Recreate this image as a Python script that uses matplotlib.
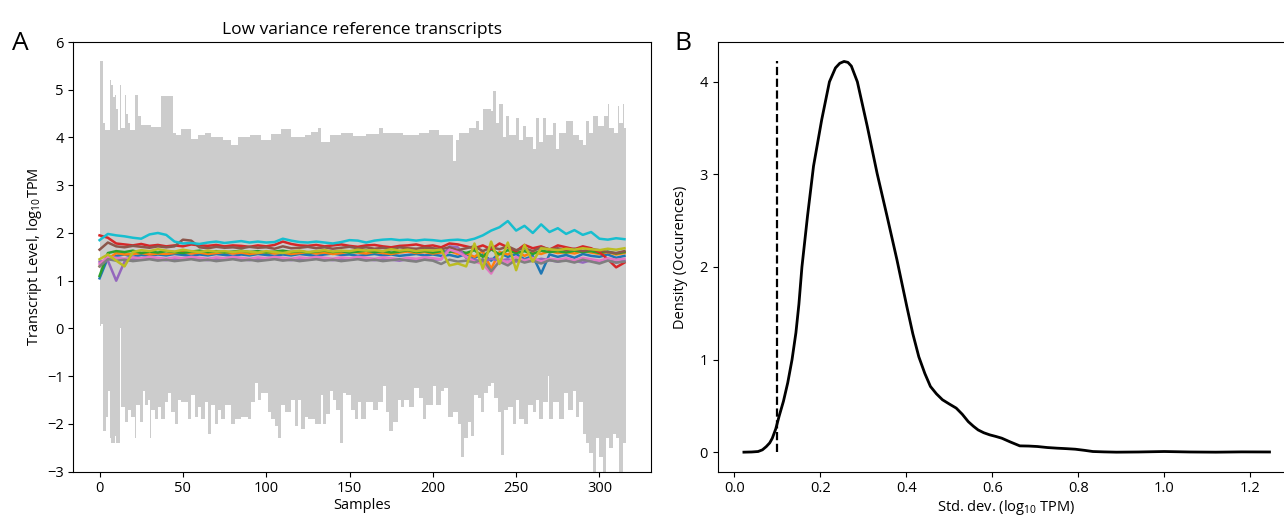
import numpy as np
import matplotlib
matplotlib.use("Agg")
import matplotlib.pyplot as plt

plt.rcParams['font.family'] = ['Open Sans', 'DejaVu Sans']
plt.rcParams['mathtext.fontset'] = 'custom'
plt.rcParams['mathtext.rm'] = 'Open Sans'
plt.rcParams['mathtext.it'] = 'Open Sans:italic'

# ---- panel A: envelope of all transcripts (grey), as stairs segments
top_start = [0, 2, 3, 6, 7, 8, 9, 10, 11, 12, 13, 15, 16, 17, 18, 21, 23, 25, 31, 37,
             44, 46, 49, 55, 59, 63, 67, 74, 79, 83, 90, 97, 103, 109, 115, 123, 127, 131, 133, 138,
             145, 152, 160, 168, 170, 182, 192, 198, 204, 212, 214, 216, 222, 226, 228, 230, 235, 236, 238, 240,
             242, 244, 246, 250, 252, 254, 256, 260, 262, 264, 266, 268, 272, 274, 276, 280, 284, 288, 290, 292,
             294, 296, 299, 303, 305, 306, 309, 311, 312, 314, 315]
top_value = [5.6, 4.3, 4.15, 5.2, 5.1, 4.85, 4.9, 4.6, 4.15, 5.1, 4.2, 4.9, 4.5, 4.3, 4.15, 4.9, 4.45, 4.27, 4.22, 4.87,
             4.1, 4.05, 4.18, 3.97, 4.05, 4.1, 4.0, 3.95, 3.85, 4.02, 4.05, 3.95, 4.08, 4.18, 4.02, 4.05, 4.12, 4.2, 3.9, 4.05,
             4.1, 4.03, 4.08, 4.2, 4.1, 4.05, 4.1, 4.15, 4.05, 3.5, 3.95, 4.1, 4.2, 4.35, 4.15, 4.6, 4.55, 4.97, 4.3, 4.7,
             4.0, 4.45, 4.05, 4.4, 3.95, 4.25, 4.0, 3.75, 4.4, 3.9, 4.4, 4.05, 4.3, 3.75, 4.1, 4.35, 4.05, 3.95, 3.85, 4.35,
             4.1, 4.45, 4.25, 4.45, 4.7, 4.2, 4.1, 4.65, 4.3, 4.7, 4.2]

bot_start = [0, 1, 2, 4, 5, 6, 7, 9, 10, 12, 13, 15, 17, 19, 21, 22, 24, 26, 27, 29,
             30, 31, 33, 35, 37, 39, 41, 43, 45, 47, 49, 53, 55, 57, 59, 61, 63, 65, 67, 69,
             71, 73, 75, 79, 81, 85, 89, 91, 93, 95, 97, 101, 103, 105, 107, 109, 111, 115, 117, 119,
             121, 123, 125, 129, 133, 134, 136, 138, 140, 142, 144, 146, 148, 151, 153, 155, 157, 160, 164, 167,
             170, 172, 174, 176, 179, 181, 183, 186, 189, 192, 194, 196, 200, 202, 205, 207, 209, 212, 215, 217,
             219, 221, 223, 225, 227, 229, 231, 233, 235, 237, 239, 241, 243, 245, 248, 250, 252, 255, 257, 260,
             262, 264, 266, 269, 270, 272, 276, 279, 281, 284, 286, 288, 290, 292, 294, 296, 298, 300, 302, 304,
             306, 308, 310, 312, 314]
bot_value = [0.05, 0.1, -2.15, -1.85, -1.3, -2.3, -2.4, -2.25, -2.4, 0.0, -1.65, -1.95, -1.7, -1.85, -2.3, -1.6, -1.95, -1.3, -1.6, -1.5,
             -2.3, -1.7, -1.9, -1.65, -1.9, -1.55, -1.35, -1.75, -2.0, -1.5, -1.55, -1.9, -1.4, -1.85, -1.65, -1.9, -1.55, -2.2, -1.6, -2.0,
             -1.7, -1.9, -1.6, -2.0, -1.9, -1.85, -1.9, -1.55, -1.15, -1.5, -1.35, -1.75, -1.9, -2.05, -2.3, -1.6, -1.75, -1.5, -2.05, -1.5,
             -2.1, -1.85, -1.9, -2.0, -1.4, -2.0, -1.8, -1.3, -1.5, -1.7, -2.4, -1.35, -1.4, -1.7, -1.9, -1.55, -1.9, -1.55, -1.7, -1.55,
             -1.2, -1.75, -2.15, -1.95, -1.5, -1.65, -1.5, -1.65, -1.25, -1.45, -1.9, -1.6, -1.2, -1.6, -1.3, -1.25, -1.85, -1.75, -2.0, -2.7,
             -2.3, -1.95, -2.25, -1.4, -1.45, -1.75, -1.35, -1.2, -1.15, -1.45, -1.75, -2.65, -1.7, -1.65, -2.0, -1.5, -1.9, -2.0, -1.6, -1.75,
             -1.5, -1.9, -1.55, -1.0, -1.9, -1.55, -1.9, -1.35, -1.7, -1.3, -1.85, -1.55, -2.2, -2.4, -2.6, -3.1, -2.3, -2.7, -3.1, -2.3,
             -2.5, -2.2, -2.3, -3.1, -2.4]
n_samples = 316

# ---- panel A: low variance reference transcripts, every 5th sample
line_x = list(range(0, 316, 5))
lines = [
    # tab:blue
    [1.05, 1.48, 1.52, 1.55, 1.50, 1.54, 1.52, 1.55,
     1.53, 1.56, 1.54, 1.52, 1.55, 1.53, 1.56, 1.54,
     1.52, 1.55, 1.53, 1.56, 1.54, 1.52, 1.55, 1.53,
     1.56, 1.54, 1.52, 1.55, 1.57, 1.54, 1.55, 1.52,
     1.54, 1.56, 1.53, 1.55, 1.52, 1.54, 1.56, 1.53,
     1.55, 1.52, 1.54, 1.50, 1.56, 1.48, 1.55, 1.42,
     1.58, 1.50, 1.56, 1.45, 1.52, 1.15, 1.55, 1.50,
     1.54, 1.48, 1.56, 1.52, 1.50, 1.55, 1.48, 1.52],
    # tab:orange
    [1.30, 1.45, 1.58, 1.55, 1.56, 1.58, 1.55, 1.57,
     1.56, 1.58, 1.60, 1.57, 1.59, 1.56, 1.58, 1.60,
     1.57, 1.59, 1.56, 1.58, 1.60, 1.57, 1.59, 1.56,
     1.58, 1.60, 1.57, 1.59, 1.56, 1.58, 1.61, 1.59,
     1.57, 1.60, 1.58, 1.56, 1.59, 1.61, 1.58, 1.60,
     1.57, 1.59, 1.62, 1.56, 1.58, 1.50, 1.62, 1.25,
     1.60, 1.55, 1.64, 1.52, 1.60, 1.56, 1.62, 1.58,
     1.60, 1.57, 1.62, 1.59, 1.56, 1.60, 1.55, 1.58],
    # tab:green
    [1.10, 1.58, 1.62, 1.60, 1.63, 1.58, 1.61, 1.59,
     1.62, 1.60, 1.58, 1.61, 1.63, 1.60, 1.62, 1.59,
     1.61, 1.63, 1.60, 1.62, 1.59, 1.61, 1.63, 1.60,
     1.62, 1.59, 1.61, 1.63, 1.60, 1.62, 1.59, 1.61,
     1.63, 1.60, 1.62, 1.59, 1.61, 1.64, 1.60, 1.62,
     1.59, 1.62, 1.60, 1.63, 1.58, 1.64, 1.50, 1.66,
     1.55, 1.64, 1.58, 1.62, 1.56, 1.63, 1.60, 1.62,
     1.59, 1.63, 1.60, 1.62, 1.58, 1.61, 1.57, 1.60],
    # tab:red
    [1.95, 1.90, 1.78, 1.76, 1.74, 1.77, 1.73, 1.75,
     1.72, 1.74, 1.72, 1.76, 1.74, 1.73, 1.75, 1.72,
     1.74, 1.73, 1.71, 1.74, 1.72, 1.75, 1.82, 1.77,
     1.74, 1.73, 1.75, 1.72, 1.74, 1.76, 1.73, 1.71,
     1.74, 1.75, 1.72, 1.70, 1.73, 1.74, 1.76, 1.72,
     1.74, 1.70, 1.78, 1.76, 1.72, 1.68, 1.74, 1.66,
     1.78, 1.70, 1.62, 1.75, 1.68, 1.72, 1.65, 1.74,
     1.70, 1.66, 1.72, 1.68, 1.60, 1.45, 1.28, 1.38],
    # tab:purple
    [1.40, 1.42, 1.00, 1.40, 1.46, 1.44, 1.47, 1.45,
     1.43, 1.46, 1.44, 1.47, 1.45, 1.43, 1.46, 1.44,
     1.47, 1.45, 1.43, 1.46, 1.44, 1.47, 1.45, 1.43,
     1.46, 1.44, 1.47, 1.45, 1.43, 1.46, 1.44, 1.47,
     1.45, 1.43, 1.46, 1.44, 1.42, 1.45, 1.43, 1.46,
     1.44, 1.45, 1.72, 1.70, 1.48, 1.44, 1.40, 1.46,
     1.42, 1.45, 1.40, 1.44, 1.41, 1.46, 1.43, 1.40,
     1.44, 1.42, 1.38, 1.43, 1.40, 1.44, 1.38, 1.42],
    # tab:brown
    [1.65, 1.80, 1.72, 1.70, 1.73, 1.71, 1.69, 1.72,
     1.70, 1.72, 1.86, 1.84, 1.70, 1.68, 1.71, 1.69,
     1.70, 1.68, 1.71, 1.69, 1.70, 1.67, 1.72, 1.68,
     1.69, 1.71, 1.68, 1.70, 1.67, 1.69, 1.71, 1.68,
     1.70, 1.67, 1.69, 1.66, 1.70, 1.68, 1.67, 1.69,
     1.68, 1.66, 1.70, 1.64, 1.68, 1.72, 1.62, 1.70,
     1.66, 1.72, 1.64, 1.68, 1.62, 1.70, 1.66, 1.68,
     1.64, 1.67, 1.62, 1.66, 1.64, 1.60, 1.58, 1.62],
    # tab:pink
    [1.35, 1.50, 1.48, 1.46, 1.49, 1.47, 1.50, 1.48,
     1.46, 1.49, 1.47, 1.50, 1.48, 1.46, 1.49, 1.47,
     1.50, 1.48, 1.46, 1.49, 1.47, 1.50, 1.48, 1.46,
     1.49, 1.47, 1.50, 1.48, 1.46, 1.49, 1.47, 1.50,
     1.48, 1.46, 1.49, 1.47, 1.45, 1.48, 1.46, 1.49,
     1.47, 1.45, 1.65, 1.60, 1.50, 1.40, 1.35, 1.15,
     1.45, 1.38, 1.50, 1.42, 1.48, 1.40, 1.46, 1.44,
     1.47, 1.43, 1.48, 1.45, 1.42, 1.47, 1.44, 1.46],
    # tab:gray
    [1.30, 1.45, 1.42, 1.44, 1.41, 1.43, 1.45, 1.42,
     1.44, 1.41, 1.43, 1.45, 1.42, 1.44, 1.41, 1.43,
     1.45, 1.42, 1.44, 1.41, 1.43, 1.45, 1.42, 1.44,
     1.41, 1.43, 1.45, 1.42, 1.44, 1.41, 1.43, 1.45,
     1.42, 1.44, 1.41, 1.43, 1.45, 1.42, 1.40, 1.44,
     1.42, 1.35, 1.44, 1.40, 1.42, 1.38, 1.45, 1.20,
     1.40, 1.32, 1.44, 1.38, 1.42, 1.36, 1.43, 1.40,
     1.42, 1.38, 1.44, 1.40, 1.36, 1.42, 1.38, 1.40],
    # tab:olive
    [1.45, 1.55, 1.42, 1.30, 1.60, 1.64, 1.62, 1.66,
     1.63, 1.61, 1.65, 1.62, 1.60, 1.63, 1.61, 1.62,
     1.60, 1.62, 1.61, 1.59, 1.62, 1.60, 1.58, 1.61,
     1.63, 1.60, 1.62, 1.64, 1.61, 1.63, 1.62, 1.65,
     1.63, 1.64, 1.62, 1.66, 1.63, 1.65, 1.62, 1.64,
     1.63, 1.65, 1.32, 1.36, 1.30, 1.78, 1.25, 1.82,
     1.35, 1.80, 1.22, 1.75, 1.40, 1.68, 1.66, 1.64,
     1.67, 1.65, 1.68, 1.66, 1.64, 1.67, 1.65, 1.68],
    # tab:cyan
    [1.85, 1.98, 1.95, 1.93, 1.90, 1.88, 1.97, 2.00,
     1.96, 1.82, 1.78, 1.79, 1.77, 1.80, 1.82, 1.79,
     1.81, 1.83, 1.80, 1.82, 1.80, 1.81, 1.88, 1.84,
     1.81, 1.80, 1.82, 1.80, 1.78, 1.81, 1.85, 1.84,
     1.80, 1.84, 1.86, 1.87, 1.85, 1.86, 1.84, 1.86,
     1.85, 1.83, 1.85, 1.86, 1.84, 1.88, 1.95, 2.05,
     2.12, 2.25, 2.05, 2.15, 2.00, 2.18, 2.02, 2.10,
     1.98, 2.06, 1.96, 2.02, 1.88, 1.86, 1.89, 1.87],
]

# ---- panel B: density of std. dev.
kde_x = [0.022, 0.04, 0.055, 0.065, 0.074, 0.082, 0.088, 0.096, 0.104, 0.114, 0.124, 0.134, 0.143, 0.150, 0.157, 0.170,
         0.184, 0.203, 0.221, 0.235, 0.245, 0.255, 0.264, 0.272, 0.286, 0.309, 0.332, 0.355, 0.378, 0.401, 0.415, 0.429,
         0.443, 0.456, 0.470, 0.484, 0.500, 0.516, 0.530, 0.544, 0.556, 0.567, 0.580, 0.594, 0.608, 0.622, 0.642, 0.664,
         0.685, 0.705, 0.728, 0.751, 0.772, 0.793, 0.814, 0.834, 0.860, 0.889, 0.94, 1.0, 1.06, 1.12, 1.18, 1.245]
kde_y = [0.0, 0.002, 0.007, 0.025, 0.06, 0.10, 0.15, 0.25, 0.39, 0.55, 0.75, 1.0, 1.29, 1.6, 2.0, 2.55,
         3.09, 3.59, 4.0, 4.15, 4.2, 4.22, 4.21, 4.17, 4.0, 3.52, 3.01, 2.55, 2.08, 1.575, 1.28, 1.03,
         0.85, 0.71, 0.63, 0.566, 0.52, 0.476, 0.41, 0.33, 0.28, 0.24, 0.21, 0.187, 0.17, 0.151, 0.11, 0.068,
         0.066, 0.061, 0.05, 0.043, 0.038, 0.032, 0.02, 0.007, 0.003, 0.0, 0.002, 0.007, 0.002, 0.0, 0.003, 0.002]
cutoff = 0.1

W, H = 1284, 517
fig = plt.figure(figsize=(W / 100, H / 100), dpi=100)
axA = fig.add_axes([73.3 / W, 45.3 / H, 577.4 / W, 429.7 / H])
axB = fig.add_axes([717.7 / W, 45.3 / H, 578.0 / W, 429.7 / H])

grey = '#cccccc'
axA.stairs(top_value, top_start + [n_samples], baseline=1.5, fill=True, color=grey, lw=0)
axA.stairs(bot_value, bot_start + [n_samples], baseline=1.6, fill=True, color=grey, lw=0)
for vals in lines:
    axA.plot(line_x, vals, lw=1.8)
axA.set_xlim(-15.75, 330.75)
axA.set_ylim(-3, 6)
axA.set_yticks(range(-3, 7))
axA.set_xticks([0, 50, 100, 150, 200, 250, 300])
axA.set_title("Low variance reference transcripts", fontsize=12.5, pad=6)
axA.set_xlabel("Samples", fontsize=10.5, labelpad=1)
axA.set_ylabel(r"Transcript Level, log$_{10}$TPM", fontsize=10.5, labelpad=2)

axB.plot(kde_x, kde_y, color='black', lw=2)
axB.vlines(cutoff, 0, max(kde_y), colors='black', linestyles='--', lw=1.6)
axB.set_xlim(-0.039, 1.306)
axB.set_ylim(-0.211, 4.43)
axB.set_yticks([0, 1, 2, 3, 4])
axB.set_xlabel(r"Std. dev. (log$_{10}$ TPM)", fontsize=10.5, labelpad=1)
axB.set_ylabel("Density (Occurences)", fontsize=10.5, labelpad=8)

for ax in (axA, axB):
    ax.tick_params(labelsize=10.5)

fig.text(12 / W, 1 - 50 / H, "A", fontsize=19, va='baseline', ha='left')
fig.text(674 / W, 1 - 50 / H, "B", fontsize=19, va='baseline', ha='left')

fig.savefig("out.png", dpi=100)
